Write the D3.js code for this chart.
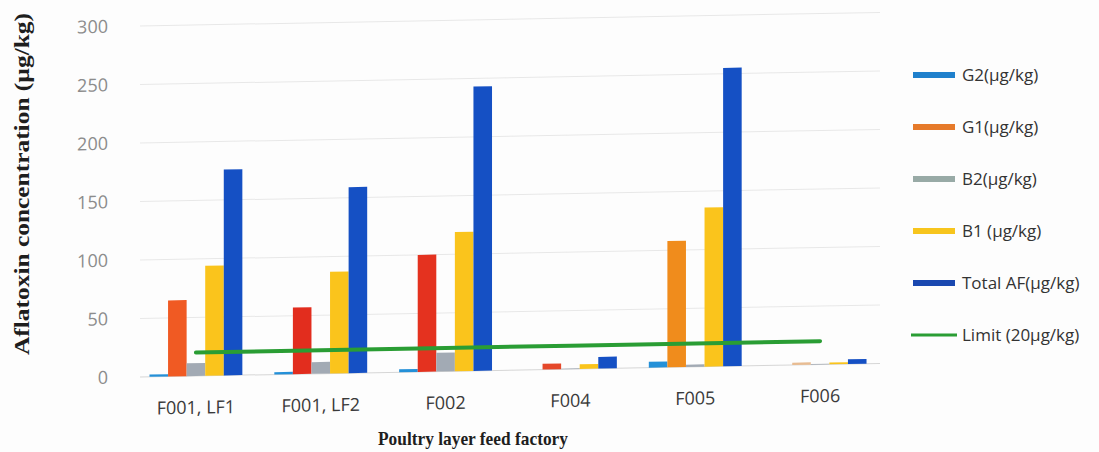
<!DOCTYPE html>
<html>
<head>
<meta charset="utf-8">
<script src="https://cdn.jsdelivr.net/npm/d3@7"></script>
<style>
  body { margin: 0; background: #fdfdfd; }
  svg { display: block; }
</style>
</head>
<body>
<svg id="chart" width="1099" height="452"></svg>
<script>
// Aflatoxin concentrations per poultry layer feed factory (µg/kg)
const categories = ["F001, LF1", "F001, LF2", "F002", "F004", "F005", "F006"];
const seriesNames = ["G2(µg/kg)", "G1(µg/kg)", "B2(µg/kg)", "B1 (µg/kg)", "Total AF(µg/kg)"];
const g2 = [2, 2, 2.5, 0, 5, 0];
const g1 = [65, 57, 100, 5, 108, 2];
const b2 = [11, 10, 16, 0.5, 2, 0.5];
const b1 = [94, 87, 119, 4, 136, 1.5];
const totalAF = [176, 159, 243, 10, 255, 4];
const limitValue = 20;
const limitLabel = "Limit (20µg/kg)";
const yTicks = [0, 50, 100, 150, 200, 250, 300];

const series = [g2, g1, b2, b1, totalAF];

// colours
const legendColors = ["#1f80cc", "#e67a2a", "#98aaa6", "#f7c51d", "#1a48b0"];
const barColors = ["#2490d8", null, "#a2aab4", "#fac41c", "#1550c4"];
const g1Colors = ["#f05a23", "#e22d1e", "#e4321f", "#e5482a", "#f08c1c", "#e8bc92"];
const limitColor = "#2a9d34";

const svg = d3.select("#chart");
const sans = "'Open Sans', 'Liberation Sans', sans-serif";
const serif = "'Liberation Serif', 'Times New Roman', serif";

// plot area is drawn with a slight tilt
const plot = svg.append("g")
  .attr("transform", "translate(140,0) skewY(-1.05) translate(-140,0)");

const x0 = d3.scaleBand().domain(categories)
  .range([133.5, 882.5]).paddingInner(0.256).paddingOuter(0.128);
const x1 = d3.scaleBand().domain(d3.range(series.length))
  .range([0, x0.bandwidth()]);
const y = d3.scaleLinear().domain([0, 300]).range([377, 26]);

// gridlines
plot.append("g").selectAll("line")
  .data(yTicks)
  .join("line")
  .attr("x1", 140).attr("x2", 880)
  .attr("y1", d => y(d)).attr("y2", d => y(d))
  .attr("stroke", d => d === 0 ? "#d6d6d6" : "#e8e8e8")
  .attr("stroke-width", 1);

// y axis labels
const yAxis = plot.append("g")
  .attr("transform", "translate(140,0)")
  .call(d3.axisLeft(y).tickValues(yTicks).tickSize(0).tickPadding(32));
yAxis.select(".domain").remove();
yAxis.selectAll("text")
  .attr("font-family", sans).attr("font-size", 18).attr("fill", "#8c8c8c");

// bars
const groups = plot.append("g").selectAll("g")
  .data(categories)
  .join("g")
  .attr("transform", d => `translate(${x0(d)},0)`);

groups.selectAll("rect")
  .data((c, ci) => series.map((s, si) => ({ si, ci, v: s[ci] })))
  .join("rect")
  .attr("x", d => x1(d.si))
  .attr("width", x1.bandwidth())
  .attr("y", d => y(d.v))
  .attr("height", d => y(0) - y(d.v))
  .attr("fill", d => d.si === 1 ? g1Colors[d.ci] : barColors[d.si]);

// limit line from first to last category
const lineGen = d3.line()
  .x(d => x0(d) + x0.bandwidth() / 2)
  .y(() => y(limitValue));
plot.append("path")
  .datum(categories)
  .attr("d", lineGen)
  .attr("fill", "none")
  .attr("stroke", limitColor)
  .attr("stroke-width", 4)
  .attr("stroke-linecap", "round");

// category labels
const xAxis = plot.append("g")
  .attr("transform", `translate(0,${y(0)})`)
  .call(d3.axisBottom(x0).tickSize(0).tickPadding(25));
xAxis.select(".domain").remove();
xAxis.selectAll("text")
  .attr("font-family", sans).attr("font-size", 18).attr("fill", "#3a3a3a");

// axis titles
svg.append("text")
  .attr("transform", "translate(29,184) rotate(-90)")
  .attr("text-anchor", "middle")
  .attr("font-family", serif).attr("font-weight", "bold")
  .attr("font-size", 20).attr("fill", "#1e1e1e")
  .attr("textLength", 342).attr("lengthAdjust", "spacingAndGlyphs")
  .text("Aflatoxin concentration (µg/kg)");

svg.append("text")
  .attr("x", 473).attr("y", 445)
  .attr("text-anchor", "middle")
  .attr("font-family", serif).attr("font-weight", "bold")
  .attr("font-size", 19.5).attr("fill", "#1e1e1e")
  .attr("textLength", 190).attr("lengthAdjust", "spacingAndGlyphs")
  .text("Poultry layer feed factory");

// legend
const legendItems = seriesNames.map((n, i) => ({ name: n, color: legendColors[i], line: false }))
  .concat([{ name: limitLabel, color: limitColor, line: true }]);
const legend = svg.append("g").selectAll("g")
  .data(legendItems)
  .join("g")
  .attr("transform", (d, i) => `translate(913,${75 + i * 52})`);
legend.append("rect")
  .attr("x", d => d.line ? -2 : 0)
  .attr("y", d => d.line ? -1.5 : -3)
  .attr("width", d => d.line ? 46 : 42)
  .attr("height", d => d.line ? 3 : 6)
  .attr("fill", d => d.color);
legend.append("text")
  .attr("x", 49).attr("dy", "0.35em")
  .attr("font-family", sans).attr("font-size", 17)
  .attr("fill", "#333")
  .text(d => d.name);
</script>
</body>
</html>
